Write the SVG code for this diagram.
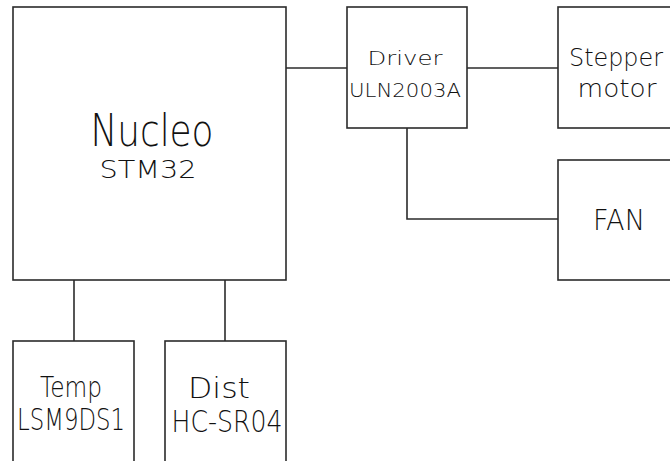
<svg xmlns="http://www.w3.org/2000/svg" width="670" height="461" viewBox="0 0 670 461">
<style>
.box{fill:#fff;stroke:#2b2b2b;stroke-width:1.6}
.wire{fill:none;stroke:#2b2b2b;stroke-width:1.6}
.t{font-family:"DejaVu Sans","Liberation Sans",sans-serif;font-weight:200;fill:#111;text-anchor:middle}
</style>
<rect width="670" height="461" fill="#fff"/>
<g id="connectors">
<path class="wire" d="M286 68H347"/>
<path class="wire" d="M467 68H558"/>
<path class="wire" d="M407 128V219H558"/>
<path class="wire" d="M74 280V341"/>
<path class="wire" d="M225 280V341"/>
</g>
<g id="nucleo">
<rect class="box" x="13" y="7" width="273" height="273"/>
<text class="t" x="152" y="146" font-size="44" textLength="123" lengthAdjust="spacingAndGlyphs">Nucleo</text>
<text class="t" x="148" y="178" font-size="25" textLength="97" lengthAdjust="spacingAndGlyphs">STM32</text>
</g>
<g id="driver">
<rect class="box" x="347" y="7" width="120" height="121"/>
<text class="t" x="405" y="65" font-size="19" textLength="75" lengthAdjust="spacingAndGlyphs">Driver</text>
<text class="t" x="405" y="97" font-size="19" textLength="112" lengthAdjust="spacingAndGlyphs">ULN2003A</text>
</g>
<g id="stepper">
<rect class="box" x="558" y="7" width="130" height="121"/>
<text class="t" x="616" y="66" font-size="25" textLength="94" lengthAdjust="spacingAndGlyphs">Stepper</text>
<text class="t" x="617" y="97" font-size="25" textLength="79" lengthAdjust="spacingAndGlyphs">motor</text>
</g>
<g id="fan">
<rect class="box" x="558" y="160" width="130" height="120"/>
<text class="t" x="619" y="230" font-size="29" textLength="52" lengthAdjust="spacingAndGlyphs">FAN</text>
</g>
<g id="temp">
<rect class="box" x="13" y="341" width="121" height="140"/>
<text class="t" x="71" y="397" font-size="28" textLength="62" lengthAdjust="spacingAndGlyphs">Temp</text>
<text class="t" x="71" y="430" font-size="30" textLength="108" lengthAdjust="spacingAndGlyphs">LSM9DS1</text>
</g>
<g id="dist">
<rect class="box" x="165" y="341" width="121" height="140"/>
<text class="t" x="219" y="398" font-size="28" textLength="62" lengthAdjust="spacingAndGlyphs">Dist</text>
<text class="t" x="227" y="432" font-size="30" textLength="111" lengthAdjust="spacingAndGlyphs">HC-SR04</text>
</g>
</svg>
